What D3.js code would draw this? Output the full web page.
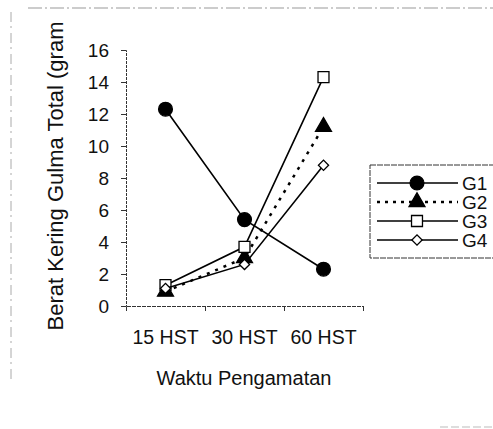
<!DOCTYPE html>
<html>
<head>
<meta charset="utf-8">
<style>
  body { margin: 0; background: #fff; }
  text { font-family: "Liberation Sans", Arial, sans-serif; fill: #111; }
</style>
</head>
<body>
<script src="https://cdn.jsdelivr.net/npm/d3@7/dist/d3.min.js"></script>
<script>
  // data
  var categories = ['15 HST', '30 HST', '60 HST'];
  var seriesNames = ['G1', 'G2', 'G3', 'G4'];
  var g1 = [12.3, 5.4, 2.3];
  var g2 = [0.9, 3.0, 11.2];
  var g3 = [1.3, 3.7, 14.3];
  var g4 = [1.1, 2.6, 8.8];
  var yTicks = [0, 2, 4, 6, 8, 10, 12, 14, 16];

  var width = 493, height = 429;
  var plot = { left: 126, right: 363, top: 50, bottom: 306 };

  var svg = d3.select('body').append('svg')
    .attr('width', width)
    .attr('height', height);

  // faint scan edges
  svg.append('line').attr('x1', 28).attr('x2', 493).attr('y1', 8).attr('y2', 8)
    .attr('stroke', '#999').attr('stroke-width', 1).attr('stroke-dasharray', '14,3,2,3');
  svg.append('line').attr('x1', 11).attr('x2', 11).attr('y1', 12).attr('y2', 380)
    .attr('stroke', '#aaa').attr('stroke-width', 1).attr('stroke-dasharray', '10,4,2,5');
  svg.append('line').attr('x1', 440).attr('x2', 493).attr('y1', 427).attr('y2', 427)
    .attr('stroke', '#bbb').attr('stroke-width', 1).attr('stroke-dasharray', '8,3');

  var x = d3.scaleBand().domain(categories).range([plot.left, plot.right]);
  var xEdge = d3.scaleLinear().domain([0, categories.length]).range([plot.left, plot.right]);
  var y = d3.scaleLinear().domain([0, 16]).range([plot.bottom, plot.top]);

  // y axis
  var yAxis = svg.append('g')
    .attr('transform', 'translate(' + plot.left + ',0)')
    .call(d3.axisLeft(y).tickValues(yTicks).tickSize(5).tickPadding(12));
  yAxis.select('.domain').attr('stroke', '#333').attr('stroke-dasharray', '3,1');
  yAxis.selectAll('.tick line').attr('stroke', '#333');
  yAxis.selectAll('text').style('font-size', '19px').attr('fill', '#111');

  // x axis with ticks between categories
  var xAxis = svg.append('g')
    .attr('transform', 'translate(0,' + plot.bottom + ')')
    .call(d3.axisBottom(xEdge).tickValues([1, 2, 3]).tickSize(5).tickFormat(''));
  xAxis.select('.domain').attr('stroke', '#333').attr('stroke-dasharray', '4,1');
  xAxis.selectAll('.tick line').attr('stroke', '#333');

  svg.append('g')
    .selectAll('text')
    .data(categories)
    .join('text')
      .attr('x', d => x(d) + x.bandwidth() / 2)
      .attr('y', 344)
      .attr('text-anchor', 'middle')
      .style('font-size', '19.5px')
      .text(d => d);

  // axis titles
  svg.append('text')
    .attr('x', 244)
    .attr('y', 385)
    .attr('text-anchor', 'middle')
    .style('font-size', '20px')
    .text('Waktu Pengamatan');

  svg.append('text')
    .attr('transform', 'translate(63,176) rotate(-90)')
    .attr('text-anchor', 'middle')
    .style('font-size', '22px')
    .text('Berat Kering Gulma Total (gram');

  var series = [
    { name: 'G1', values: g1, dash: null, shape: 'circle', fill: '#000' },
    { name: 'G2', values: g2, dash: '3,6', shape: 'triangle', fill: '#000' },
    { name: 'G3', values: g3, dash: null, shape: 'square', fill: '#fff' },
    { name: 'G4', values: g4, dash: null, shape: 'diamond', fill: '#fff' }
  ];

  // diamond drawn as a rotated square so it is as wide as it is tall
  var symbolType = {
    circle: d3.symbolCircle,
    triangle: d3.symbolTriangle,
    square: d3.symbolSquare,
    diamond: d3.symbolSquare
  };
  var symbolSize = { circle: 150, triangle: 110, square: 120, diamond: 52 };
  var symbolRot = { circle: 0, triangle: 0, square: 0, diamond: 45 };

  var line = d3.line()
    .x((d, i) => x(categories[i]) + x.bandwidth() / 2)
    .y(d => y(d));

  var groups = svg.append('g')
    .selectAll('g')
    .data(series)
    .join('g');

  groups.append('path')
    .attr('fill', 'none')
    .attr('stroke', '#000')
    .attr('stroke-width', d => d.dash ? 2.5 : 1.6)
    .attr('stroke-dasharray', d => d.dash)
    .attr('d', d => line(d.values));

  groups.selectAll('path.mark')
    .data(d => d.values.map((v, i) => ({ v: v, i: i, s: d })))
    .join('path')
      .attr('class', 'mark')
      .attr('transform', d => 'translate(' + (x(categories[d.i]) + x.bandwidth() / 2) + ',' + y(d.v) + ') rotate(' + symbolRot[d.s.shape] + ')')
      .attr('d', d => d3.symbol().type(symbolType[d.s.shape]).size(symbolSize[d.s.shape])())
      .attr('fill', d => d.s.fill)
      .attr('stroke', '#000')
      .attr('stroke-width', 1.3);

  // legend
  var legend = svg.append('g');
  legend.append('rect')
    .attr('x', 370).attr('y', 165)
    .attr('width', 140).attr('height', 93)
    .attr('fill', 'none')
    .attr('stroke', '#333')
    .attr('stroke-width', 1)
    .attr('stroke-dasharray', '6,1');

  var legendY = d3.scalePoint().domain(seriesNames).range([183, 240]);

  var items = legend.selectAll('g.item')
    .data(series)
    .join('g')
      .attr('class', 'item')
      .attr('transform', d => 'translate(0,' + legendY(d.name) + ')');

  items.append('line')
    .attr('x1', 377).attr('x2', 458)
    .attr('stroke', '#000')
    .attr('stroke-width', d => d.dash ? 2.5 : 1.6)
    .attr('stroke-dasharray', d => d.dash ? '3,5' : null);

  items.append('path')
    .attr('transform', d => 'translate(417,0) rotate(' + symbolRot[d.shape] + ')')
    .attr('d', d => d3.symbol().type(symbolType[d.shape]).size(symbolSize[d.shape])())
    .attr('fill', d => d.fill)
    .attr('stroke', '#000')
    .attr('stroke-width', 1.3);

  items.append('text')
    .attr('x', 462)
    .attr('y', 7)
    .style('font-size', '19px')
    .text(d => d.name);
</script>
</body>
</html>
